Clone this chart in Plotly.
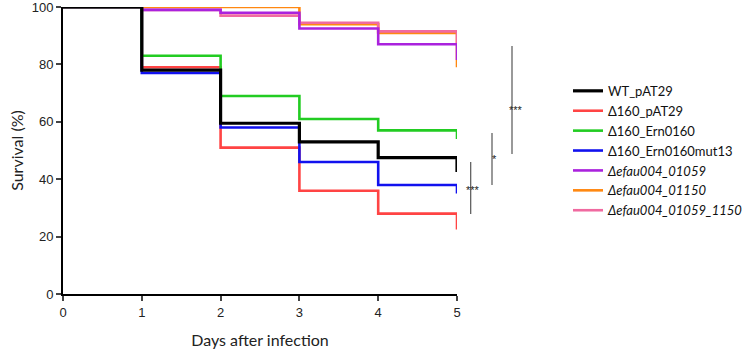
import plotly.graph_objects as go

days = [0, 1, 2, 3, 4, 5]
series_names = [
    "WT_pAT29",
    "Δ160_pAT29",
    "Δ160_Ern0160",
    "Δ160_Ern0160mut13",
    "<i>Δefau004_01059</i>",
    "<i>Δefau004_01150</i>",
    "<i>Δefau004_01059_1150</i>",
]
wt = [100, 78, 59.5, 53, 47.5, 42.5]
d160_pat29 = [100, 79, 51, 36, 28, 22.5]
d160_ern = [100, 83, 69, 61, 57, 54]
d160_mut13 = [100, 77, 58, 46, 38, 35]
d01059 = [100, 99, 98, 92.5, 87, 81.5]
d01150 = [100, 100, 100, 94, 91, 79]
d01059_1150 = [100, 99, 97, 94.5, 91.5, 87]
colors = ["#000000", "#ff4444", "#22cc22", "#1111ee", "#aa22dd", "#ff8811", "#f06aa0"]
widths = [3.2, 2.6, 2.6, 2.6, 2.6, 2.6, 2.6]

values = [wt, d160_pat29, d160_ern, d160_mut13, d01059, d01150, d01059_1150]
# drawing order (bottom -> top); legend order given by legendrank
draw_order = [5, 6, 4, 1, 3, 2, 0]

fig = go.Figure()
for i in draw_order:
    fig.add_trace(go.Scatter(
        x=days, y=values[i], mode="lines", line_shape="hv",
        line=dict(color=colors[i], width=widths[i]),
        name=series_names[i], legendrank=i + 1,
    ))

# significance brackets (paper coords)
brackets = [
    # x_px, y_top_px, y_bot_px, label, label_x_px, label_y_px
    (470.7, 162, 214, "***", 482, 190),
    (492, 133, 185, "*", 499, 159),
    (512, 46, 154, "***", 525, 102),
]
L, R, T, B = 63, 457, 7, 294
for xp, yt, yb, lab, lx, ly in brackets:
    fig.add_shape(type="line", xref="paper", yref="paper",
                  x0=(xp - L) / (R - L), x1=(xp - L) / (R - L),
                  y0=(B - yt) / (B - T), y1=(B - yb) / (B - T),
                  line=dict(color="#555555", width=1.2))
    fig.add_annotation(xref="paper", yref="paper",
                       x=(lx - L) / (R - L), y=(B - ly) / (B - T),
                       text=lab, showarrow=False,
                       font=dict(family="Liberation Sans", size=11, color="#222222"))

fig.update_layout(
    width=744, height=351,
    margin=dict(l=L, r=744 - R, t=T, b=351 - B, autoexpand=False),
    plot_bgcolor="white", paper_bgcolor="white",
    showlegend=True,
    legend=dict(x=(568 - L) / (R - L), y=0.76, xanchor="left", yanchor="top",
                font=dict(family="Lato", size=13, color="#111111"),
                tracegroupgap=0, bgcolor="rgba(0,0,0,0)"),
    xaxis=dict(range=[0, 5], tickvals=days, ticks="outside", ticklen=5, tickwidth=1.5,
               showline=True, linecolor="black", linewidth=2, showgrid=False, zeroline=False,
               ticklabeloverflow="allow",
               tickfont=dict(family="Liberation Sans", size=13, color="#222222"),
               title=dict(text="Days after infection", standoff=16,
                          font=dict(family="Lato", size=16, color="#222222"))),
    yaxis=dict(range=[0, 100], tickvals=[0, 20, 40, 60, 80, 100], ticks="outside", ticklen=5,
               tickwidth=1.5, showline=True, linecolor="black", linewidth=2, showgrid=False,
               zeroline=False, ticklabeloverflow="allow",
               tickfont=dict(family="Liberation Sans", size=13, color="#222222"),
               title=dict(text="Survival (%)", standoff=4,
                          font=dict(family="Lato", size=16, color="#222222"))),
)

fig.write_html("out.html")
